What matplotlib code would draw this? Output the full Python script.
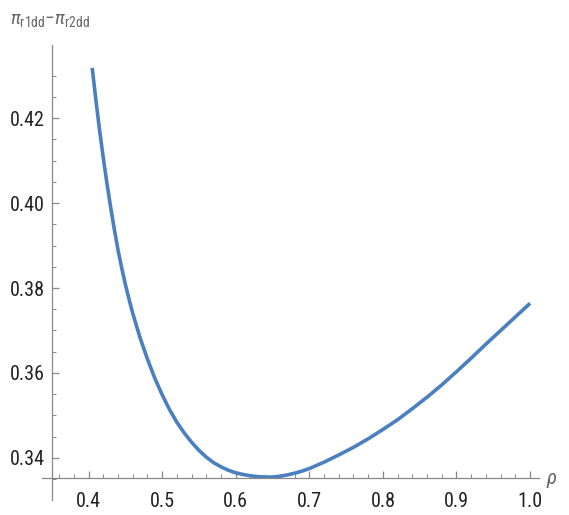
import matplotlib
matplotlib.use("Agg")
import matplotlib.pyplot as plt
from matplotlib import font_manager

# values
rho = [0.405, 0.41, 0.415, 0.42, 0.425, 0.43, 0.435, 0.44, 0.445, 0.45,
       0.455, 0.46, 0.47, 0.48, 0.49, 0.50, 0.51, 0.52, 0.53, 0.54,
       0.55, 0.56, 0.57, 0.58, 0.59, 0.60, 0.61, 0.62, 0.63, 0.64,
       0.65, 0.66, 0.67, 0.68, 0.69, 0.70, 0.72, 0.74, 0.76, 0.78,
       0.80, 0.82, 0.84, 0.86, 0.88, 0.90, 0.92, 0.94, 0.96, 0.98, 1.00]
diff = [0.4318, 0.4243, 0.4172, 0.4107, 0.4047, 0.3991, 0.3939, 0.3890, 0.3848, 0.3809,
        0.3774, 0.3741, 0.3683, 0.3633, 0.3588, 0.3549, 0.3514, 0.3484, 0.3459, 0.3437,
        0.3418, 0.3402, 0.3389, 0.3379, 0.3371, 0.3365, 0.3361, 0.3358, 0.3356, 0.3355,
        0.3355, 0.3357, 0.3360, 0.3364, 0.3369, 0.3375, 0.3390, 0.3407, 0.3425, 0.3445,
        0.3467, 0.3490, 0.3516, 0.3543, 0.3572, 0.3603, 0.3635, 0.3668, 0.3700, 0.3732, 0.3764]

x_major = [0.4, 0.5, 0.6, 0.7, 0.8, 0.9, 1.0]
x_labels = ["0.4", "0.5", "0.6", "0.7", "0.8", "0.9", "1.0"]
x_minor = [0.36, 0.38, 0.42, 0.44, 0.46, 0.48, 0.52, 0.54, 0.56, 0.58,
           0.62, 0.64, 0.66, 0.68, 0.72, 0.74, 0.76, 0.78, 0.82, 0.84,
           0.86, 0.88, 0.92, 0.94, 0.96, 0.98]
y_major = [0.34, 0.36, 0.38, 0.40, 0.42]
y_labels = ["0.34", "0.36", "0.38", "0.40", "0.42"]
y_minor = [0.335, 0.345, 0.35, 0.355, 0.365, 0.37, 0.375, 0.385, 0.39, 0.395,
           0.405, 0.41, 0.415, 0.425, 0.43]

# pick a condensed sans if one is installed
installed = {f.name for f in font_manager.fontManager.ttflist}
font = 'Liberation Sans'
for name in ['Liberation Sans Narrow', 'Arial Narrow', 'Roboto Condensed', 'DejaVu Sans Condensed']:
    if name in installed:
        font = name
        break

plt.rcParams['font.family'] = [font, 'DejaVu Sans']
plt.rcParams['mathtext.fontset'] = 'custom'
plt.rcParams['mathtext.rm'] = font
plt.rcParams['mathtext.it'] = font + ':italic'

fig = plt.figure(figsize=(5.69, 5.15), dpi=100)
ax = fig.add_axes([42 / 569, 1 - 500 / 515, (539 - 42) / 569, (500 - 45) / 515])

ax.plot(rho, diff, color='#4a80c0', lw=2.6, solid_capstyle='butt', solid_joinstyle='round')

ax.set_xlim(0.3368, 1.0121)
ax.set_ylim(0.3301, 0.4372)

axis_col = '#888888'
for side in ['top', 'right']:
    ax.spines[side].set_visible(False)
ax.spines['left'].set_position(('data', 0.35))
ax.spines['bottom'].set_position(('data', 0.3353))
for side in ['left', 'bottom']:
    ax.spines[side].set_color(axis_col)
    ax.spines[side].set_linewidth(0.9)

ax.set_xticks(x_major)
ax.set_xticklabels(x_labels)
ax.set_xticks(x_minor, minor=True)
ax.set_yticks(y_major)
ax.set_yticklabels(y_labels)
ax.set_yticks(y_minor, minor=True)

ax.tick_params(axis='both', which='both', direction='in', color=axis_col, labelcolor='#222222', labelsize=14.5)
ax.tick_params(axis='both', which='major', length=5, width=0.9)
ax.tick_params(axis='both', which='minor', length=3, width=0.7)
ax.tick_params(axis='x', which='major', pad=10)
ax.tick_params(axis='y', which='major', pad=5)

fig.text(10 / 569, 1 - 24 / 515, r'$\pi_{\mathrm{r1dd}}$−$\pi_{\mathrm{r2dd}}$',
         color='#666666', fontsize=14, ha='left', va='baseline')
fig.text(546 / 569, 1 - 484 / 515, r'$\rho$', color='#666666', fontsize=15,
         ha='left', va='baseline')

fig.savefig('out.png', dpi=100)
